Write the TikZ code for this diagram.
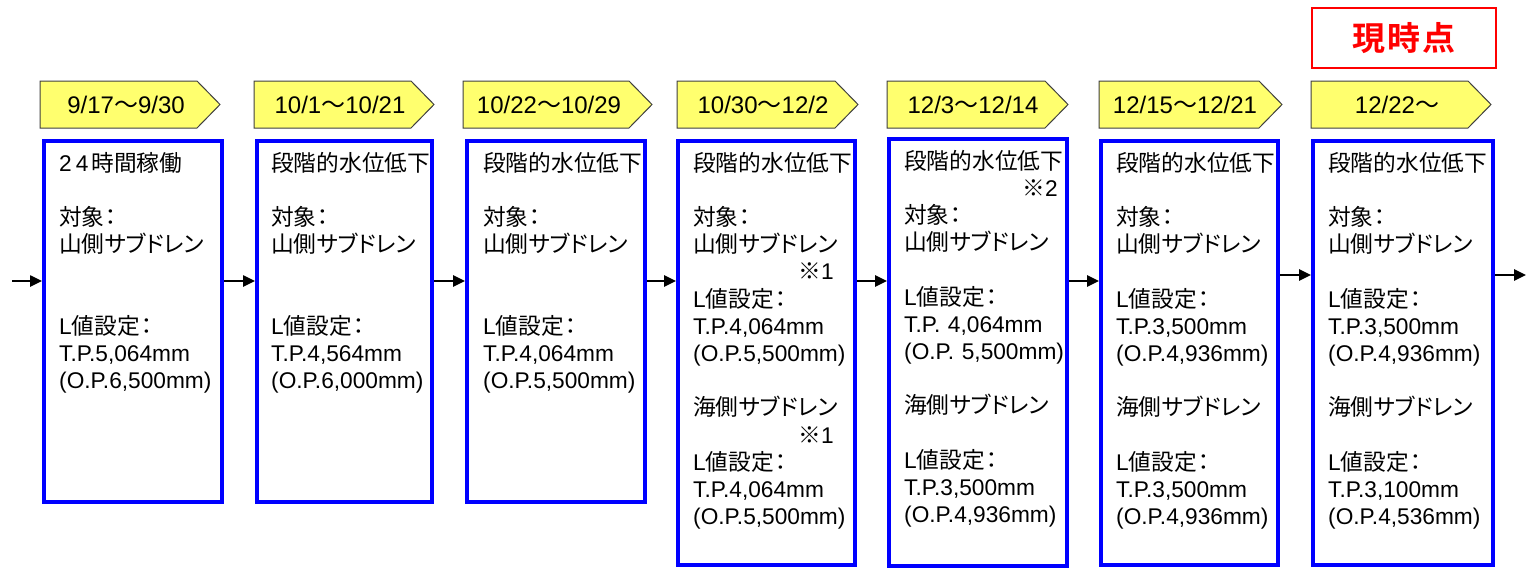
\documentclass[tikz,border=0pt]{standalone}
\usepackage{fontspec}
\setmainfont{Liberation Sans}
\newfontfamily\jpfont[RawFeature=+palt]{Noto Sans CJK JP}
\newfontfamily\jpplain{Noto Sans CJK JP}
\newfontfamily\jpbold{Noto Sans CJK JP Bold}
\newcommand{\J}[1]{{\jpfont #1}}
\newcommand{\JW}[1]{{\jpplain #1}}
\usetikzlibrary{arrows.meta}
\definecolor{tagyellow}{RGB}{255,255,110}
\definecolor{boxblue}{RGB}{0,0,255}
\definecolor{nowred}{RGB}{255,0,0}
\tikzset{
  bx/.style={draw=boxblue, line width=4pt, rectangle, inner sep=0pt},
  tagshape/.style={draw=black!75, fill=tagyellow, line width=1pt},
  tagtext/.style={inner sep=0pt, font=\fontsize{24}{28}\selectfont},
  bodytext/.style={inner sep=0pt, anchor=base west, text width=170pt, align=left,
    font=\fontsize{22.7}{27.2}\selectfont},
  note/.style={inner sep=0pt, anchor=base east, font=\fontsize{22.7}{27.2}\selectfont},
  arr/.style={draw=black, line width=2.5pt, -{Triangle[length=12pt,width=11pt]}},
  nowbox/.style={draw=nowred, line width=1.6pt, rectangle, inner sep=0pt,
    minimum width=184pt, minimum height=60pt, text=nowred,
    font=\jpbold\fontsize{33}{36}\selectfont}
}
\newcommand{\Tag}[4]{% x0, name, bodylen, text
  \draw[tagshape] (#1,81) -- (#1+#3,81) -- (#1+#3+23,104.5) -- (#1+#3,128) -- (#1,128) -- cycle;
  \node[tagtext] (#2) at (#1+86,104.5) {#4};
}
\newcommand{\Tgt}{\J{対象}\hspace{1pt}\J{：}}
\newcommand{\Lset}{L\J{値設定}\hspace{1pt}\J{：}}
\begin{document}
\begin{tikzpicture}[x=1pt,y=-1pt]
\useasboundingbox (0,0) rectangle (1535,574);
\fill[white] (0,0) rectangle (1535,574);

% now marker
\node[nowbox] (now) at (1404,38) {現\hspace{2pt}時\hspace{2pt}点};

% tags
\Tag{40}{t1}{157}{9/17\JW{～}9/30}
\Tag{254}{t2}{157}{10/1\JW{～}10/21}
\Tag{463}{t3}{166}{10/22\JW{～}10/29}
\Tag{677}{t4}{158}{10/30\JW{～}12/2}
\Tag{887}{t5}{158}{12/3\JW{～}12/14}
\Tag{1099}{t6}{160}{12/15\JW{～}12/21}
\Tag{1311}{t7}{157}{12/22\JW{～}}

% boxes
\node[bx, minimum width=178pt, minimum height=361pt] (b1) at (133,321.5) {};
\node[bx, minimum width=175pt, minimum height=361pt] (b2) at (344.5,321.5) {};
\node[bx, minimum width=178pt, minimum height=361pt] (b3) at (556,321.5) {};
\node[bx, minimum width=177pt, minimum height=424pt] (b4) at (766.5,353) {};
\node[bx, minimum width=178pt, minimum height=427pt] (b5) at (978,352.5) {};
\node[bx, minimum width=177pt, minimum height=424pt] (b6) at (1189.5,353) {};
\node[bx, minimum width=180pt, minimum height=424pt] (b7) at (1403,353) {};

% texts
\node[bodytext] (x1) at (59,171) {2\hspace{4pt}4\hspace{3pt}\JW{時間稼働}\\[27.2pt]
\Tgt\\ \J{山側サブドレン}\\[54.4pt]
\Lset\\ T.P.5,064mm\\ (O.P.6,500mm)};
\node[bodytext] (x2) at (271,171) {\JW{段階的水位低下}\\[27.2pt]
\Tgt\\ \J{山側サブドレン}\\[54.4pt]
\Lset\\ T.P.4,564mm\\ (O.P.6,000mm)};
\node[bodytext] (x3) at (483,171) {\JW{段階的水位低下}\\[27.2pt]
\Tgt\\ \J{山側サブドレン}\\[54.4pt]
\Lset\\ T.P.4,064mm\\ (O.P.5,500mm)};
\node[bodytext] (x4) at (693,171) {\JW{段階的水位低下}\\[27.2pt]
\Tgt\\ \J{山側サブドレン}\\[27.2pt]
\Lset\\ T.P.4,064mm\\ (O.P.5,500mm)\\[27.2pt]
\J{海側サブドレン}\\[27.2pt]
\Lset\\ T.P.4,064mm\\ (O.P.5,500mm)};
\node[note] (n4a) at (834,279.8) {\JW{※}1};
\node[note] (n4b) at (834,443) {\JW{※}1};
\node[bodytext] (x5) at (904,169) {\JW{段階的水位低下}\\[27.2pt]
\Tgt\\ \J{山側サブドレン}\\[27.2pt]
\Lset\\ T.P. 4,064mm\\ (O.P. 5,500mm)\\[27.2pt]
\J{海側サブドレン}\\[27.2pt]
\Lset\\ T.P.3,500mm\\ (O.P.4,936mm)};
\node[note] (n5) at (1058,196.2) {\JW{※}2};
\node[bodytext] (x6) at (1116,171) {\JW{段階的水位低下}\\[27.2pt]
\Tgt\\ \J{山側サブドレン}\\[27.2pt]
\Lset\\ T.P.3,500mm\\ (O.P.4,936mm)\\[27.2pt]
\J{海側サブドレン}\\[27.2pt]
\Lset\\ T.P.3,500mm\\ (O.P.4,936mm)};
\node[bodytext] (x7) at (1328,171) {\JW{段階的水位低下}\\[27.2pt]
\Tgt\\ \J{山側サブドレン}\\[27.2pt]
\Lset\\ T.P.3,500mm\\ (O.P.4,936mm)\\[27.2pt]
\J{海側サブドレン}\\[27.2pt]
\Lset\\ T.P.3,100mm\\ (O.P.4,536mm)};

% arrows
\coordinate (ya) at (0,281);
\coordinate (yb) at (0,275);
\coordinate (start) at (12,281);
\coordinate (finish) at (1526,275);
\draw[arr] (start) -- (b1.west |- ya);
\draw[arr] (b1.east |- ya) -- (b2.west |- ya);
\draw[arr] (b2.east |- ya) -- (b3.west |- ya);
\draw[arr] (b3.east |- ya) -- (b4.west |- ya);
\draw[arr] (b4.east |- ya) -- (b5.west |- ya);
\draw[arr] (b5.east |- ya) -- (b6.west |- ya);
\draw[arr] (b6.east |- yb) -- (b7.west |- yb);
\draw[arr] (b7.east |- yb) -- (finish);
\end{tikzpicture}
\end{document}
